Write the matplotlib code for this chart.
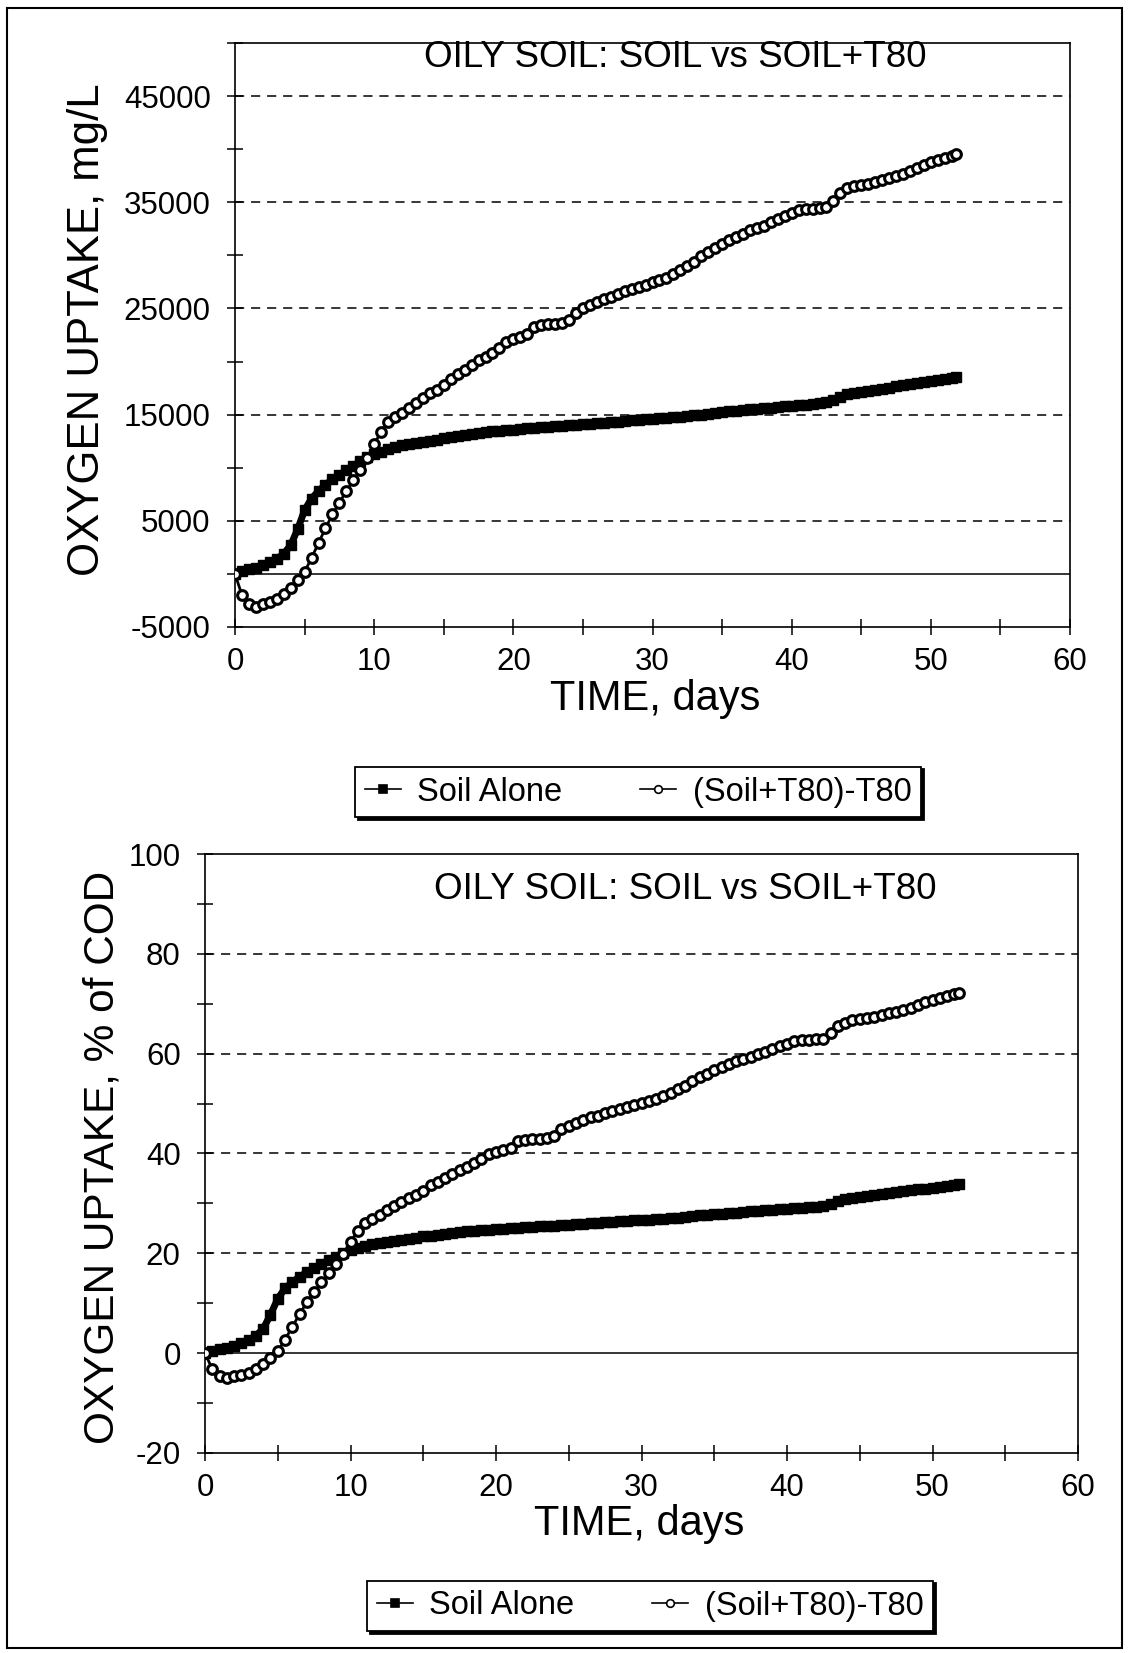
import matplotlib
matplotlib.use("Agg")
import matplotlib.pyplot as plt
from matplotlib.patches import Rectangle

plt.rcParams['font.family'] = ['Liberation Sans', 'DejaVu Sans']

# ---------------- data ----------------
days = [0, 0.5, 1, 1.5, 2, 2.5, 3, 3.5, 4, 4.5,
        5, 5.5, 6, 6.5, 7, 7.5, 8, 8.5, 9, 9.5,
        10, 10.5, 11, 11.5, 12, 12.5, 13, 13.5, 14, 14.5,
        15, 15.5, 16, 16.5, 17, 17.5, 18, 18.5, 19, 19.5,
        20, 20.5, 21, 21.5, 22, 22.5, 23, 23.5, 24, 24.5,
        25, 25.5, 26, 26.5, 27, 27.5, 28, 28.5, 29, 29.5,
        30, 30.5, 31, 31.5, 32, 32.5, 33, 33.5, 34, 34.5,
        35, 35.5, 36, 36.5, 37, 37.5, 38, 38.5, 39, 39.5,
        40, 40.5, 41, 41.5, 42, 42.5, 43, 43.5, 44, 44.5,
        45, 45.5, 46, 46.5, 47, 47.5, 48, 48.5, 49, 49.5,
        50, 50.5, 51, 51.5, 51.8]

soil_mgL = [0, 250, 450, 600, 800, 1100, 1400, 1900, 2700, 4200,
            6000, 7100, 7800, 8400, 8900, 9300, 9800, 10200, 10600, 11000,
            11300, 11500, 11750, 11950, 12100, 12200, 12300, 12400, 12500, 12650,
            12800, 12900, 13000, 13100, 13200, 13300, 13400, 13450, 13500, 13550,
            13600, 13650, 13700, 13750, 13800, 13850, 13900, 13950, 14000, 14050,
            14100, 14150, 14200, 14250, 14300, 14350, 14400, 14450, 14500, 14550,
            14600, 14650, 14700, 14750, 14800, 14850, 14950, 15000, 15100, 15150,
            15250, 15300, 15350, 15400, 15500, 15550, 15600, 15650, 15750, 15800,
            15850, 15900, 15950, 16000, 16050, 16150, 16400, 16700, 16900, 17050,
            17150, 17250, 17350, 17450, 17550, 17650, 17750, 17850, 17950, 18050,
            18150, 18250, 18350, 18450, 18550]

t80_mgL = [0, -2000, -2800, -3100, -2800, -2600, -2400, -1900, -1300, -600,
           200, 1500, 2900, 4300, 5600, 6700, 7800, 8800, 9800, 10900,
           12200, 13400, 14300, 14750, 15200, 15650, 16100, 16550, 17000, 17350,
           17800, 18400, 18800, 19200, 19700, 20100, 20400, 20800, 21300, 21800,
           22100, 22300, 22600, 23300, 23400, 23500, 23550, 23650, 23900, 24600,
           25000, 25300, 25600, 25900, 26100, 26350, 26600, 26800, 27000, 27250,
           27450, 27650, 27900, 28200, 28600, 29000, 29400, 29900, 30300, 30700,
           31100, 31450, 31750, 32050, 32350, 32550, 32800, 33100, 33450, 33700,
           34000, 34250, 34350, 34400, 34450, 34550, 35100, 35900, 36300, 36550,
           36650, 36750, 36900, 37100, 37300, 37500, 37700, 37900, 38200, 38500,
           38800, 39000, 39200, 39400, 39500]

soil_pct = [0, 0.5, 0.8, 1.1, 1.5, 2.0, 2.6, 3.5, 4.9, 7.7,
            10.9, 13.0, 14.2, 15.3, 16.2, 17.0, 17.9, 18.6, 19.3, 20.1,
            20.6, 21.0, 21.4, 21.8, 22.1, 22.3, 22.4, 22.6, 22.8, 23.1,
            23.4, 23.5, 23.7, 23.9, 24.1, 24.3, 24.5, 24.5, 24.6, 24.7,
            24.8, 24.9, 25.0, 25.1, 25.2, 25.3, 25.4, 25.5, 25.5, 25.6,
            25.7, 25.8, 25.9, 26.0, 26.1, 26.2, 26.3, 26.4, 26.5, 26.6,
            26.6, 26.7, 26.8, 26.9, 27.0, 27.1, 27.3, 27.4, 27.6, 27.6,
            27.8, 27.9, 28.0, 28.1, 28.3, 28.4, 28.5, 28.6, 28.7, 28.8,
            28.9, 29.0, 29.1, 29.2, 29.3, 29.5, 29.9, 30.5, 30.8, 31.1,
            31.3, 31.5, 31.7, 31.8, 32.0, 32.2, 32.4, 32.6, 32.8, 32.9,
            33.1, 33.3, 33.5, 33.7, 33.9]

t80_pct = [0, -3.2, -4.5, -4.9, -4.5, -4.3, -4.0, -3.2, -2.2, -1.0,
           0.4, 2.7, 5.3, 7.8, 10.2, 12.2, 14.2, 16.1, 17.9, 19.9,
           22.3, 24.5, 26.1, 26.9, 27.7, 28.6, 29.4, 30.2, 31.0, 31.7,
           32.5, 33.6, 34.3, 35.0, 35.9, 36.7, 37.2, 38.0, 38.9, 39.8,
           40.3, 40.7, 41.2, 42.5, 42.7, 42.9, 43.0, 43.2, 43.6, 44.9,
           45.6, 46.2, 46.7, 47.3, 47.6, 48.1, 48.5, 48.9, 49.3, 49.7,
           50.1, 50.5, 50.9, 51.5, 52.2, 52.9, 53.6, 54.6, 55.3, 56.0,
           56.8, 57.4, 57.9, 58.5, 59.0, 59.4, 59.9, 60.4, 61.0, 61.5,
           62.0, 62.5, 62.7, 62.8, 62.9, 63.0, 64.1, 65.5, 66.2, 66.7,
           66.9, 67.1, 67.3, 67.7, 68.1, 68.4, 68.8, 69.2, 69.7, 70.3,
           70.8, 71.2, 71.5, 71.9, 72.1]

series_names = ["Soil Alone", "(Soil+T80)-T80"]
title_text = "OILY SOIL: SOIL vs SOIL+T80"
x_label = "TIME, days"
y_label_top = "OXYGEN UPTAKE, mg/L"
y_label_bot = "OXYGEN UPTAKE, % of COD"

x_ticks = [0, 5, 10, 15, 20, 25, 30, 35, 40, 45, 50, 55, 60]
y_ticks_top = [-5000, 0, 5000, 10000, 15000, 20000, 25000, 30000, 35000, 40000, 45000, 50000]
y_labeled_top = [-5000, 5000, 15000, 25000, 35000, 45000]
y_ticks_bot = [-20, -10, 0, 10, 20, 30, 40, 50, 60, 70, 80, 90, 100]
y_labeled_bot = [-20, 0, 20, 40, 60, 80, 100]
grid_top = [5000, 15000, 25000, 35000, 45000]
grid_bot = [20, 40, 60, 80]

# ---------------- figure ----------------
W, H = 1129, 1653
fig = plt.figure(figsize=(W / 100, H / 100), dpi=100)
fig.patch.set_facecolor('white')


def fx(px):
    return px / W


def fy(py):
    return 1 - py / H


def style_axes(ax, yticks, ylabeled, grid, xlim, ylim):
    ax.set_xlim(*xlim)
    ax.set_ylim(*ylim)
    ax.set_xticks(x_ticks)
    ax.set_xticklabels([str(v) if v % 10 == 0 else "" for v in x_ticks])
    ax.set_yticks(yticks)
    ax.set_yticklabels([str(v) if v in ylabeled else "" for v in yticks])
    ax.tick_params(direction='inout', length=11, width=1.1, labelsize=22.5, colors='black')
    ax.tick_params(axis='x', pad=9)
    ax.tick_params(axis='y', pad=12)
    for s in ax.spines.values():
        s.set_linewidth(1.2)
        s.set_color('black')
    for g in grid:
        ax.axhline(g, color='black', lw=1.1, ls=(0, (6, 4.5)), zorder=1)
    ax.axhline(0, color='black', lw=1.1, zorder=1)


def draw_series(ax, xs, ys_soil, ys_t80):
    ax.plot(xs, ys_soil, color='black', lw=5, marker='s', ms=6.5,
            mfc='black', mec='black', label=series_names[0], zorder=3)
    ax.plot(xs, ys_t80, color='black', lw=2.0, marker='o', ms=7,
            mfc='white', mec='black', mew=2.2, label=series_names[1], zorder=4)


def add_legend(ax, cx, cy):
    h, l = ax.get_legend_handles_labels()
    leg = fig.legend(h, l, loc='center',
                     bbox_to_anchor=(fx(cx), fy(cy)), ncol=2, fontsize=23.5,
                     frameon=True, fancybox=False, edgecolor='black', framealpha=1,
                     handlelength=1.1, handletextpad=0.5, columnspacing=2.4,
                     borderpad=0.3, borderaxespad=0,
                     shadow={'facecolor': 'black', 'edgecolor': 'black', 'alpha': 1})
    leg.get_frame().set_linewidth(1.3)
    for ln in leg.get_lines():
        ln.set_linewidth(1.2)
        ln.set_markersize(5.5)
        ln.set_markeredgewidth(1.2)
    return leg


# top chart
ax1 = fig.add_axes([fx(235), fy(627), fx(1070) - fx(235), fy(43) - fy(627)])
style_axes(ax1, y_ticks_top, y_labeled_top, grid_top, (0, 60), (-5000, 50000))
draw_series(ax1, days, soil_mgL, t80_mgL)
ax1.text(0.527, 0.976, title_text, transform=ax1.transAxes, ha='center', va='center',
         fontsize=26.5)
fig.text(fx(655), fy(699), x_label, ha='center', va='center', fontsize=30)
fig.text(fx(88), fy(330), y_label_top, ha='center', va='center', rotation=90, fontsize=31.5)
add_legend(ax1, 638, 792)

# bottom chart
ax2 = fig.add_axes([fx(205), fy(1453), fx(1078) - fx(205), fy(854) - fy(1453)])
style_axes(ax2, y_ticks_bot, y_labeled_bot, grid_bot, (0, 60), (-20, 100))
draw_series(ax2, days, soil_pct, t80_pct)
ax2.text(0.55, 0.94, title_text, transform=ax2.transAxes, ha='center', va='center',
         fontsize=26.5)
fig.text(fx(639), fy(1524), x_label, ha='center', va='center', fontsize=30)
fig.text(fx(103), fy(1157), y_label_bot, ha='center', va='center', rotation=90, fontsize=30.5)
add_legend(ax2, 650, 1606)

# page border
fig.patches.append(Rectangle((fx(7), fy(1648)), fx(1122) - fx(7), fy(8) - fy(1648),
                             transform=fig.transFigure, fill=False, lw=1.5,
                             edgecolor='black'))

fig.savefig("out.png", dpi=100, facecolor='white')
